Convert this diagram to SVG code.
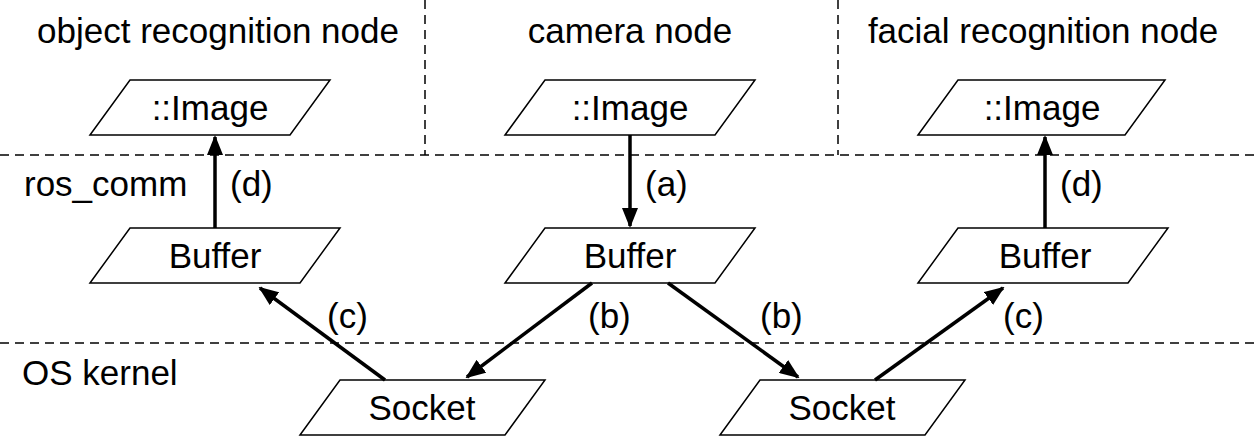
<svg xmlns="http://www.w3.org/2000/svg" width="1256" height="448" viewBox="0 0 1256 448">
<style>
text{font-family:"Liberation Sans",Arial,sans-serif;font-size:35px;fill:#000}
.c{text-anchor:middle}
.p{fill:#fff;stroke:#000;stroke-width:1.5}
.d{stroke:#000;stroke-width:1.5;stroke-dasharray:9,6;fill:none}
.a{stroke:#000;stroke-width:3.5;fill:none;marker-end:url(#ah)}
</style>
<defs><marker id="ah" viewBox="0 0 20 16" refX="18" refY="8" markerWidth="20" markerHeight="16" markerUnits="userSpaceOnUse" orient="auto"><path d="M0,0L20,8L0,16z"/></marker></defs>
<g id="dividers">
<line class="d" x1="0" y1="155" x2="1256" y2="155"/>
<line class="d" x1="0" y1="343" x2="1256" y2="343"/>
<line class="d" x1="425" y1="0" x2="425" y2="155"/>
<line class="d" x1="838" y1="0" x2="838" y2="155"/>
</g>
<g id="labels">
<text class="c" x="218" y="43">object recognition node</text>
<text class="c" x="630" y="43">camera node</text>
<text class="c" x="1043" y="43">facial recognition node</text>
<text x="24" y="196">ros_comm</text>
<text x="22" y="385">OS kernel</text>
</g>
<g id="img1"><polygon class="p" points="90,135 130,80 330,80 290,135"/><text class="c" x="210" y="120">::Image</text></g>
<g id="img2"><polygon class="p" points="505,135 545,80 755,80 715,135"/><text class="c" x="630" y="120">::Image</text></g>
<g id="img3"><polygon class="p" points="918,135 958,80 1165,80 1125,135"/><text class="c" x="1042" y="120">::Image</text></g>
<g id="buf1"><polygon class="p" points="90,283 130,228 340,228 300,283"/><text class="c" x="215" y="268">Buffer</text></g>
<g id="buf2"><polygon class="p" points="505,283 545,228 755,228 715,283"/><text class="c" x="630" y="268">Buffer</text></g>
<g id="buf3"><polygon class="p" points="918,283 958,228 1168,228 1128,283"/><text class="c" x="1045" y="268">Buffer</text></g>
<g id="sock1"><polygon class="p" points="300,435 340,380 545,380 505,435"/><text class="c" x="422" y="420">Socket</text></g>
<g id="sock2"><polygon class="p" points="720,435 760,380 965,380 925,435"/><text class="c" x="842" y="420">Socket</text></g>
<g id="connectors">
<line class="a" x1="215" y1="228" x2="215" y2="137"/>
<line class="a" x1="630" y1="135" x2="630" y2="226"/>
<line class="a" x1="1045" y1="228" x2="1045" y2="137"/>
<line class="a" x1="385" y1="380" x2="260" y2="288"/>
<line class="a" x1="592" y1="283" x2="467" y2="377"/>
<line class="a" x1="668" y1="283" x2="798" y2="377"/>
<line class="a" x1="875" y1="380" x2="1003" y2="288"/>
<text x="230" y="196">(d)</text>
<text x="645" y="196">(a)</text>
<text x="1060" y="196">(d)</text>
<text x="327" y="328">(c)</text>
<text x="588" y="328">(b)</text>
<text x="760" y="328">(b)</text>
<text x="1003" y="328">(c)</text>
</g>
</svg>
